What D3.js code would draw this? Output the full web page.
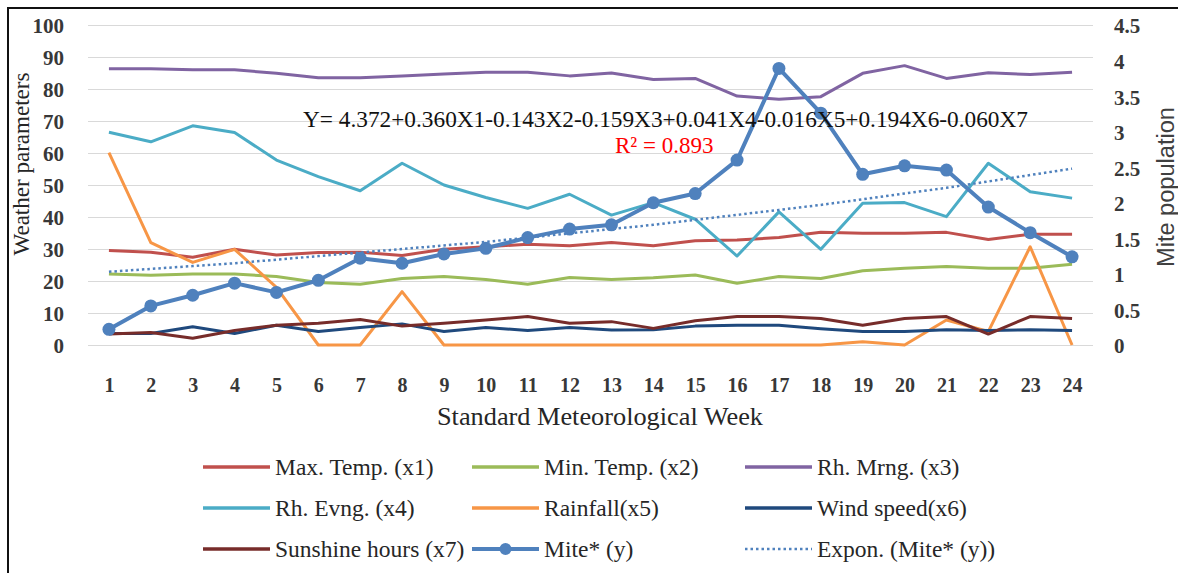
<!DOCTYPE html>
<html>
<head>
<meta charset="utf-8">
<script src="https://cdn.jsdelivr.net/npm/d3@7"></script>
<style>
	body { margin: 0; background: #fff; }
	svg { display: block; }
	text { font-family: "Liberation Serif", "Times New Roman", serif; }
</style>
</head>
<body>
<svg id="chart" width="1178" height="573"></svg>
<script>
// weeks (x axis)
var weeks = ["1","2","3","4","5","6","7","8","9","10","11","12","13","14","15","16","17","18","19","20","21","22","23","24"];

// weather parameters, left axis
var maxTemp   = [29.5,29.0,27.4,29.9,28.1,28.9,29.0,28.0,29.9,30.7,31.5,31.0,32.0,31.0,32.6,32.8,33.6,35.2,34.9,34.9,35.2,33.0,34.6,34.6];
var minTemp   = [22.2,21.8,22.2,22.2,21.4,19.5,19.0,20.8,21.4,20.5,19.0,21.1,20.5,21.0,21.9,19.3,21.4,20.8,23.2,24.0,24.5,24.0,24.0,25.2];
var rhMorning = [86.3,86.3,86.0,86.0,84.9,83.5,83.5,84.1,84.7,85.2,85.2,84.1,85.0,83.0,83.3,77.8,76.8,77.6,84.9,87.3,83.3,85.1,84.5,85.2];
var rhEvening = [66.5,63.5,68.5,66.4,57.8,52.6,48.2,56.8,50.0,46.1,42.7,47.1,40.6,44.5,39.3,27.8,41.6,29.9,44.3,44.5,40.1,56.8,47.9,45.9];
var rainfall  = [60.1,32.0,25.8,29.9,18.0,0,0,16.7,0,0,0,0,0,0,0,0,0,0,1.0,0,7.8,4.2,30.7,0];
var windSpeed = [3.6,3.6,5.7,3.6,6.2,4.2,5.5,6.6,4.2,5.5,4.5,5.5,4.7,4.8,5.9,6.2,6.2,5.1,4.2,4.2,4.8,4.5,4.8,4.5];
var sunshine  = [3.4,3.9,2.1,4.5,6.2,6.8,8.0,5.9,6.8,7.8,8.9,6.8,7.3,5.2,7.6,8.9,8.9,8.3,6.2,8.3,8.9,3.4,8.9,8.3];

// mite population, right axis
var mite      = [0.22,0.55,0.70,0.87,0.74,0.91,1.22,1.15,1.28,1.36,1.51,1.63,1.69,2.00,2.13,2.60,3.89,3.26,2.40,2.52,2.46,1.94,1.58,1.24];
var miteTrend = [1.03,1.07,1.11,1.15,1.20,1.25,1.30,1.35,1.40,1.45,1.51,1.57,1.63,1.69,1.76,1.83,1.90,1.97,2.05,2.13,2.21,2.30,2.39,2.48];

var leftTicks  = [0,10,20,30,40,50,60,70,80,90,100];
var rightTicks = [0,0.5,1,1.5,2,2.5,3,3.5,4,4.5];

var equation = "Y= 4.372+0.360X1-0.143X2-0.159X3+0.041X4-0.016X5+0.194X6-0.060X7";
var rSquared = "R\u00B2 = 0.893";

var series = [
	{name: "Max. Temp. (x1)",     values: maxTemp,   color: "#C0504D"},
	{name: "Min. Temp. (x2)",     values: minTemp,   color: "#9BBB59"},
	{name: "Rh. Mrng. (x3)",      values: rhMorning, color: "#8064A2"},
	{name: "Rh. Evng. (x4)",      values: rhEvening, color: "#4BACC6"},
	{name: "Rainfall(x5)",        values: rainfall,  color: "#F79646"},
	{name: "Wind speed(x6)",      values: windSpeed, color: "#1F497D"},
	{name: "Sunshine hours (x7)", values: sunshine,  color: "#772C2A"}
];

drawChart();

function drawChart(){
	var svg = d3.select("#chart");
	var plotL = 88, plotR = 1093, plotT = 25, plotB = 345;

	var x = d3.scalePoint().domain(weeks).range([plotL, plotR]).padding(0.5);
	var yL = d3.scaleLinear().domain([0, 100]).range([plotB, plotT]);
	var yR = d3.scaleLinear().domain([0, 4.5]).range([plotB, plotT]);

	// frame (cut off at right and bottom like the picture)
	svg.append("rect")
		.attr("x", 8).attr("y", 8).attr("width", 1300).attr("height", 700)
		.attr("fill", "none").attr("stroke", "#111").attr("stroke-width", 2);

	// gridlines
	svg.append("g")
		.attr("transform", "translate(" + plotL + ",0)")
		.call(d3.axisLeft(yL).tickValues(leftTicks).tickSize(-(plotR - plotL)).tickFormat(""))
		.call(function(g){ g.select(".domain").remove(); })
		.selectAll("line").attr("stroke", "#d9d9d9").attr("stroke-width", 1.2);

	// left axis labels
	var axL = svg.append("g")
		.attr("transform", "translate(" + plotL + ",0)")
		.call(d3.axisLeft(yL).tickValues(leftTicks).tickSize(0).tickPadding(24));
	axL.select(".domain").remove();
	axL.selectAll("text")
		.attr("font-family", "Liberation Serif, serif").attr("font-size", 21)
		.attr("font-weight", "bold").attr("fill", "#383838").attr("dy", "0.38em");

	// right axis labels
	var axR = svg.append("g")
		.attr("transform", "translate(" + plotR + ",0)")
		.call(d3.axisRight(yR).tickValues(rightTicks).tickSize(0).tickPadding(21).tickFormat(function(d){ return String(d); }));
	axR.select(".domain").remove();
	axR.selectAll("text")
		.attr("font-family", "Liberation Serif, serif").attr("font-size", 21)
		.attr("font-weight", "bold").attr("fill", "#383838").attr("dy", "0.38em");

	// x axis labels
	var axX = svg.append("g")
		.attr("transform", "translate(0," + plotB + ")")
		.call(d3.axisBottom(x).tickSize(0));
	axX.select(".domain").remove();
	axX.selectAll("text")
		.attr("y", 40).attr("dy", "0.36em")
		.attr("font-family", "Liberation Serif, serif").attr("font-size", 20)
		.attr("font-weight", "bold").attr("fill", "#383838");

	// axis titles
	svg.append("text")
		.attr("transform", "translate(21,164) rotate(-90)")
		.attr("text-anchor", "middle").attr("dy", "0.35em")
		.attr("font-size", 23).attr("fill", "#262626")
		.attr("textLength", 183).attr("lengthAdjust", "spacingAndGlyphs")
		.text("Weather parameters");

	svg.append("text")
		.attr("transform", "translate(1166,187) rotate(-90)")
		.attr("text-anchor", "middle").attr("dy", "0.35em")
		.style("font-family", "'Liberation Sans', Arial, sans-serif")
		.attr("font-size", 23).attr("fill", "#404040")
		.attr("textLength", 160).attr("lengthAdjust", "spacingAndGlyphs")
		.text("Mite population");

	svg.append("text")
		.attr("x", 600).attr("y", 425)
		.attr("text-anchor", "middle")
		.attr("font-size", 26).attr("fill", "#262626")
		.attr("textLength", 326).attr("lengthAdjust", "spacingAndGlyphs")
		.text("Standard  Meteorological Week");

	// weather lines
	var lineL = d3.line()
		.x(function(d, i){ return x(weeks[i]); })
		.y(function(d){ return yL(d); });

	svg.append("g").selectAll("path")
		.data(series)
		.enter().append("path")
			.attr("d", function(s){ return lineL(s.values); })
			.attr("fill", "none")
			.attr("stroke", function(s){ return s.color; })
			.attr("stroke-width", 3)
			.attr("stroke-linejoin", "round");

	// mite line + markers
	var lineR = d3.line()
		.x(function(d, i){ return x(weeks[i]); })
		.y(function(d){ return yR(d); });

	svg.append("path")
		.attr("d", lineR(mite))
		.attr("fill", "none").attr("stroke", "#4F81BD")
		.attr("stroke-width", 4).attr("stroke-linejoin", "round");

	svg.append("g").selectAll("circle")
		.data(mite)
		.enter().append("circle")
			.attr("cx", function(d, i){ return x(weeks[i]); })
			.attr("cy", function(d){ return yR(d); })
			.attr("r", 6.5)
			.attr("fill", "#4F81BD");

	// exponential trend
	svg.append("path")
		.attr("d", lineR(miteTrend))
		.attr("fill", "none").attr("stroke", "#4F81BD")
		.attr("stroke-width", 2.5).attr("stroke-dasharray", "2.5,3");

	// regression text
	svg.append("text")
		.attr("x", 303).attr("y", 127)
		.attr("font-size", 23).attr("fill", "#111")
		.attr("textLength", 725).attr("lengthAdjust", "spacingAndGlyphs")
		.text(equation);

	svg.append("text")
		.attr("x", 615).attr("y", 153)
		.attr("font-size", 23).attr("fill", "#FF0000")
		.text(rSquared);

	// legend
	var legendItems = series.map(function(s){ return {name: s.name, color: s.color, type: "line"}; });
	legendItems.push({name: "Mite* (y)", color: "#4F81BD", type: "marker"});
	legendItems.push({name: "Expon. (Mite* (y))", color: "#4F81BD", type: "dot"});

	var colX = [203, 472, 745];
	var rowY = [467, 508, 549];

	var item = svg.append("g").selectAll("g")
		.data(legendItems)
		.enter().append("g")
			.attr("transform", function(d, i){ return "translate(" + colX[i % 3] + "," + rowY[Math.floor(i / 3)] + ")"; });

	item.append("line")
		.attr("x1", 0).attr("x2", 67).attr("y1", 0).attr("y2", 0)
		.attr("stroke", function(d){ return d.color; })
		.attr("stroke-width", function(d){ return d.type == "dot" ? 2.5 : (d.type == "marker" ? 4 : 3.5); })
		.attr("stroke-dasharray", function(d){ return d.type == "dot" ? "2.5,3" : null; });

	item.filter(function(d){ return d.type == "marker"; })
		.append("circle")
		.attr("cx", 33.5).attr("cy", 0).attr("r", 6)
		.attr("fill", function(d){ return d.color; });

	item.append("text")
		.attr("x", 72).attr("y", 0).attr("dy", "0.33em")
		.attr("font-size", 23.5).attr("fill", "#262626")
		.text(function(d){ return d.name; });
}
</script>
</body>
</html>
